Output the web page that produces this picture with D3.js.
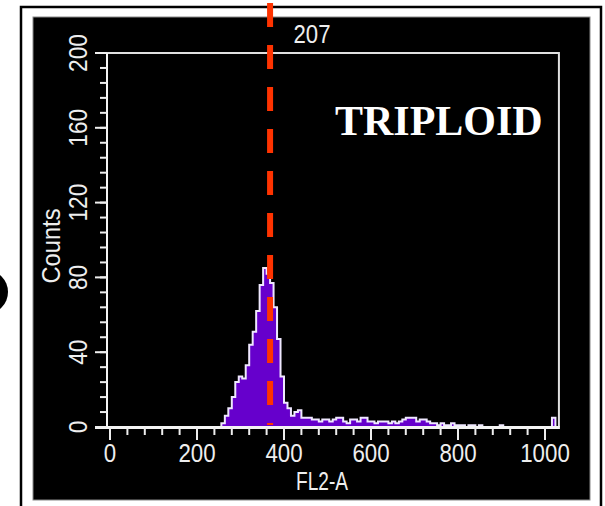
<!DOCTYPE html>
<html>
  <head>
    <meta charset="utf-8" />
    <title>Triploid histogram</title>
    <script src="https://d3js.org/d3.v7.min.js"></script>
    <style>
      body { margin: 0; background: #fff; }
      text { font-family: "Liberation Sans", Arial, sans-serif; }
      text.title { font-family: "Liberation Serif", "Times New Roman", serif; }
    </style>
  </head>
  <body>
    <script>
      // histogram counts, 8-channel bins starting at channel 256
      let binStart = 256;
      let binWidth = 8;
      let counts = [
        2, 6, 10, 16, 24, 27, 26, 33, 44, 51, 62, 76, 85, 82, 77, 64, 47, 27, 13, 10, 6, 8, 9, 5, 5,
        5, 4, 4, 3, 4, 4, 3, 4, 5, 5, 3, 2, 4, 4, 3, 5, 5, 3, 3, 2, 3, 3, 3, 2, 3, 2, 3, 4, 5, 5,
        5, 3, 4, 4, 3, 2, 2, 1, 2, 1, 1, 2, 1, 1, 1, 0, 1, 1, 0, 1, 0, 0, 0, 0, 0, 1,
        0, 0, 0, 0, 0, 0, 0, 0, 0, 0, 0, 0, 0, 0, 5
      ];
      let xTicks = [0, 200, 400, 600, 800, 1000];
      let yTicks = [0, 40, 80, 120, 160, 200];
      let markerValue = 368;
      let markerLabel = "207";
      let title = "TRIPLOID";

      let width = 605;
      let height = 506;
      let svg = d3
        .select("body")
        .append("svg")
        .attr("width", width)
        .attr("height", height);

      let x = d3.scaleLinear().domain([0, 1000]).range([110, 545]);
      let y = d3.scaleLinear().domain([0, 200]).range([427, 53]);

      // outer frame + black panel
      svg.append("path")
        .attr("d", "M21,506V7H601V506")
        .attr("fill", "none")
        .attr("stroke", "#000")
        .attr("stroke-width", 2.5);
      svg.append("rect")
        .attr("x", 33).attr("y", 17)
        .attr("width", 557).attr("height", 483)
        .attr("fill", "#000")
        .attr("stroke", "#888");
      // the cut-off circle on the left edge
      svg.append("circle")
        .attr("cx", -14).attr("cy", 292).attr("r", 22)
        .attr("fill", "#000");

      let plotRight = x(1032);
      let plotTop = y(200);

      // histogram
      let bins = counts.map((c, i) => ({ ch: binStart + i * binWidth, c: c }));
      bins.unshift({ ch: binStart, c: 0 });
      bins.push({ ch: binStart + counts.length * binWidth, c: 0 });
      let area = d3.area()
        .x((d) => x(d.ch))
        .y0(y(0))
        .y1((d) => y(d.c))
        .curve(d3.curveStepAfter);
      let line = d3.line()
        .x((d) => x(d.ch))
        .y((d) => y(d.c))
        .curve(d3.curveStepAfter);
      svg.append("path")
        .datum(bins)
        .attr("d", area)
        .attr("fill", "#6600cc");
      svg.append("path")
        .datum(bins)
        .attr("d", line)
        .attr("fill", "none")
        .attr("stroke", "#efe8ff")
        .attr("stroke-width", 2);

      // plot frame
      let frameColor = "#e0e0e0";
      svg.append("path")
        .attr("d", `M${x(0) - 3},${plotTop}H${plotRight}V${y(0)}`)
        .attr("fill", "none")
        .attr("stroke", frameColor)
        .attr("stroke-width", 2);
      svg.append("line")
        .attr("x1", x(0) - 3).attr("x2", x(0) - 3)
        .attr("y1", plotTop).attr("y2", y(0))
        .attr("stroke", "#f4f4f4")
        .attr("stroke-width", 2);
      svg.append("line")
        .attr("x1", 95).attr("x2", plotRight + 1)
        .attr("y1", y(0) + 0.5).attr("y2", y(0) + 0.5)
        .attr("stroke", "#f4f4f4")
        .attr("stroke-width", 3);

      // y ticks
      let yMinor = d3.range(0, 201, 8);
      svg.selectAll(".ytick")
        .data(yMinor)
        .join("line")
        .attr("class", "ytick")
        .attr("x1", 100).attr("x2", x(0) - 3)
        .attr("y1", (d) => y(d)).attr("y2", (d) => y(d))
        .attr("stroke", "#eee").attr("stroke-width", 2);
      svg.selectAll(".ymajor")
        .data(yTicks)
        .join("line")
        .attr("class", "ymajor")
        .attr("x1", 95).attr("x2", x(0) - 3)
        .attr("y1", (d) => y(d)).attr("y2", (d) => y(d))
        .attr("stroke", "#eee").attr("stroke-width", 2);
      svg.selectAll(".ylabel")
        .data(yTicks)
        .join("text")
        .attr("class", "ylabel")
        .attr("transform", (d) => `translate(87,${y(d)}) rotate(-90)`)
        .attr("text-anchor", "middle")
        .attr("font-size", 25)
        .attr("textLength", (d) => String(d).length * 12.6)
        .attr("lengthAdjust", "spacingAndGlyphs")
        .attr("fill", "#eee")
        .text((d) => d);

      // x ticks
      let xMinor = d3.range(0, 1001, 40);
      svg.selectAll(".xtick")
        .data(xMinor)
        .join("line")
        .attr("class", "xtick")
        .attr("x1", (d) => x(d)).attr("x2", (d) => x(d))
        .attr("y1", y(0)).attr("y2", y(0) + 8)
        .attr("stroke", "#eee").attr("stroke-width", 2);
      svg.selectAll(".xmajor")
        .data(xTicks)
        .join("line")
        .attr("class", "xmajor")
        .attr("x1", (d) => x(d)).attr("x2", (d) => x(d))
        .attr("y1", y(0)).attr("y2", y(0) + 13)
        .attr("stroke", "#eee").attr("stroke-width", 2);
      svg.selectAll(".xlabel")
        .data(xTicks)
        .join("text")
        .attr("class", "xlabel")
        .attr("x", (d) => x(d))
        .attr("y", 462)
        .attr("text-anchor", "middle")
        .attr("font-size", 25)
        .attr("textLength", (d) => String(d).length * 12.4)
        .attr("lengthAdjust", "spacingAndGlyphs")
        .attr("fill", "#eee")
        .text((d) => d);

      // axis titles
      svg.append("text")
        .attr("transform", "translate(60,246) rotate(-90)")
        .attr("text-anchor", "middle")
        .attr("font-size", 25)
        .attr("textLength", 75)
        .attr("lengthAdjust", "spacingAndGlyphs")
        .attr("fill", "#eee")
        .text("Counts");
      svg.append("text")
        .attr("x", 322).attr("y", 490)
        .attr("text-anchor", "middle")
        .attr("font-size", 25)
        .attr("textLength", 52)
        .attr("lengthAdjust", "spacingAndGlyphs")
        .attr("fill", "#eee")
        .text("FL2-A");

      // marker label and dashed line
      svg.append("text")
        .attr("x", 312).attr("y", 43)
        .attr("text-anchor", "middle")
        .attr("font-size", 25)
        .attr("textLength", 37)
        .attr("lengthAdjust", "spacingAndGlyphs")
        .attr("fill", "#eee")
        .text(markerLabel);
      svg.append("line")
        .attr("x1", x(markerValue)).attr("x2", x(markerValue))
        .attr("y1", 3).attr("y2", 425)
        .attr("stroke", "#ff3300")
        .attr("stroke-width", 6)
        .attr("stroke-dasharray", "24 18");

      svg.append("text")
        .attr("class", "title")
        .attr("x", 335).attr("y", 135)
        .attr("font-weight", "bold")
        .attr("font-size", 42)
        .attr("fill", "#fff")
        .text(title);
    </script>
  </body>
</html>
